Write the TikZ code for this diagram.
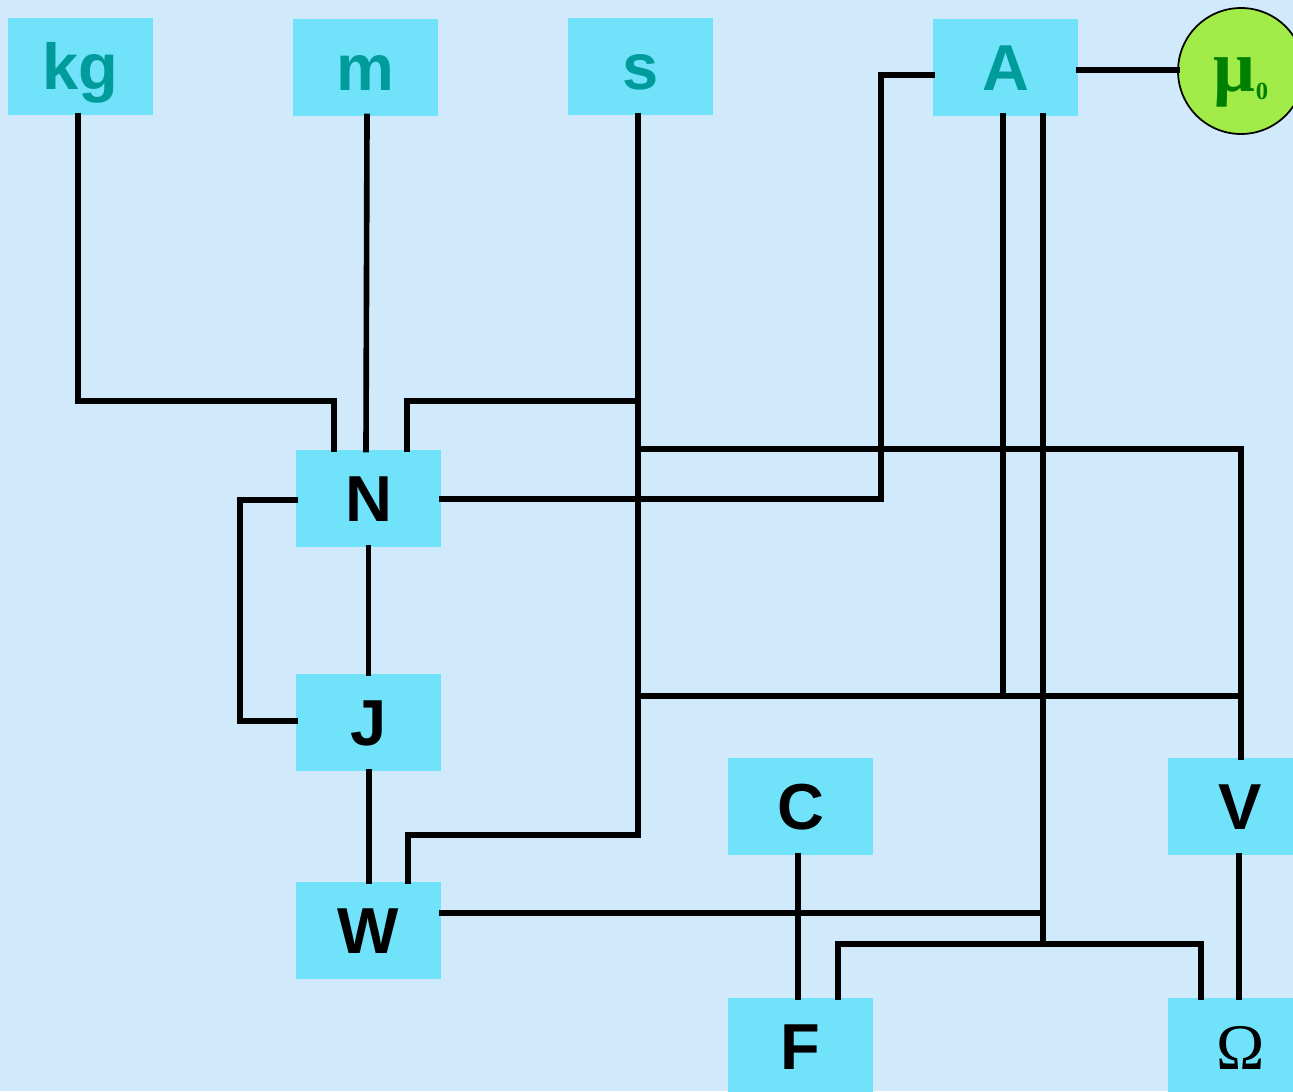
\documentclass[tikz,border=0pt]{standalone}
\usepackage{fontspec}
\setmainfont{Liberation Sans}
\newfontfamily\serifface{Liberation Serif}
\definecolor{bgblue}{RGB}{208,234,251}
\definecolor{boxcyan}{RGB}{112,227,251}
\definecolor{baseteal}{RGB}{0,155,155}
\definecolor{constgreen}{RGB}{162,236,74}
\definecolor{constink}{RGB}{0,128,0}
\tikzset{
  unitbox/.style={rectangle, fill=boxcyan, draw=none, inner sep=0pt,
    minimum width=2.9cm, minimum height=1.94cm,
    font=\fontsize{37}{44}\selectfont\bfseries, text height=26.5pt, text depth=0pt},
  baseunit/.style={unitbox, text=baseteal},
  derived/.style={unitbox, text=black},
  constant/.style={circle, fill=constgreen, draw=black, line width=1pt,
    minimum size=2.52cm, inner sep=0pt, text=constink,
    text height=23pt, text depth=0pt},
  link/.style={line width=3.2pt, draw=black, line cap=rect}
}
\begin{document}
\begin{tikzpicture}[x=0.02cm, y=-0.02cm]
\useasboundingbox (0,0) rectangle (1293,1091);
\clip (0,0) rectangle (1293,1091);
\fill[bgblue] (0,0) rectangle (1293,1091);

% base units
\node[baseunit] (kg) at (80.5,66.5) {kg};
\node[baseunit] (m)  at (365.5,67.5) {m};
\node[baseunit] (s)  at (640.5,66.5) {s};
\node[baseunit] (A)  at (1005.5,67.5) {A};
\node[constant] (mu) at (1241,71) {\serifface\bfseries\fontsize{42}{48}\selectfont μ\raisebox{-4.5pt}{\fontsize{14}{16}\selectfont 0}};

% derived units
\node[derived] (N)  at (368.5,498.5) {N};
\node[derived] (J)  at (368.5,722.5) {J};
\node[derived] (W)  at (368.5,930.5) {W};
\node[derived] (C)  at (800.5,806.5) {C};
\node[derived] (V)  at (1240.5,806.5) {V};
\node[derived] (F)  at (800.5,1046.5) {F};
\node[derived] (Om) at (1240.5,1046.5) {\serifface\mdseries Ω};

% bend points
\coordinate (kgbend) at (78,401);
\coordinate (kgN)    at (334,401);
\coordinate (sN)     at (407,401);
\coordinate (sx)     at (638,401);
\coordinate (sbottom) at (638,835);
\coordinate (sW)     at (408,835);
\coordinate (topbus) at (638,449);
\coordinate (Vbus)   at (1241,449);
\coordinate (midbus) at (638,696);
\coordinate (Vmid)   at (1241,696);
\coordinate (NAx)    at (881,499);
\coordinate (NAy)    at (881,75);
\coordinate (NL)     at (240,500);
\coordinate (JL)     at (240,721);
\coordinate (Ax1)    at (1003,116);
\coordinate (Ax2)    at (1043,116);
\coordinate (Wbus)   at (1043,913);
\coordinate (lowbus) at (1043,944);
\coordinate (Fbus)   at (838,944);
\coordinate (Obus)   at (1201,944);

% connectors
\draw[link] (kg.south -| kgbend) -- (kgbend) -- (kgN) -- (kgN |- N.north);
\draw[link] (m.south -| 367,0) -- (N.north -| 366,0);
\draw[link] (s.south -| sx) -- (sbottom) -- (sW) -- (W.north -| sW);
\draw[link] (N.north -| sN) -- (sN) -- (sx);
\draw[link] (topbus) -- (Vbus) -- (V.north -| Vbus);
\draw[link] (midbus) -- (Vmid);
\draw[link] (C.north -| 795,0) -- (C.north -| 795,0 |- midbus);
\draw[link] (N.east |- NAx) -- (NAx) -- (NAy) -- (A.west |- NAy);
\draw[link] (A.east |- 0,70) -- (mu.west |- 0,70);
\draw[link] (Ax1) -- (Ax1 |- midbus);
\draw[link] (Ax2) -- (lowbus);
\draw[link] (N.west |- NL) -- (NL) -- (JL) -- (J.west |- JL);
\draw[link] (N.south) -- (J.north);
\draw[link] (J.south -| 369,0) -- (W.north -| 369,0);
\draw[link] (W.east |- Wbus) -- (Wbus);
\draw[link] (F.north -| Fbus) -- (Fbus) -- (Obus) -- (Om.north -| Obus);
\draw[link] (C.south -| 798,0) -- (F.north -| 798,0);
\draw[link] (V.south -| 1239,0) -- (Om.north -| 1239,0);
\end{tikzpicture}
\end{document}
